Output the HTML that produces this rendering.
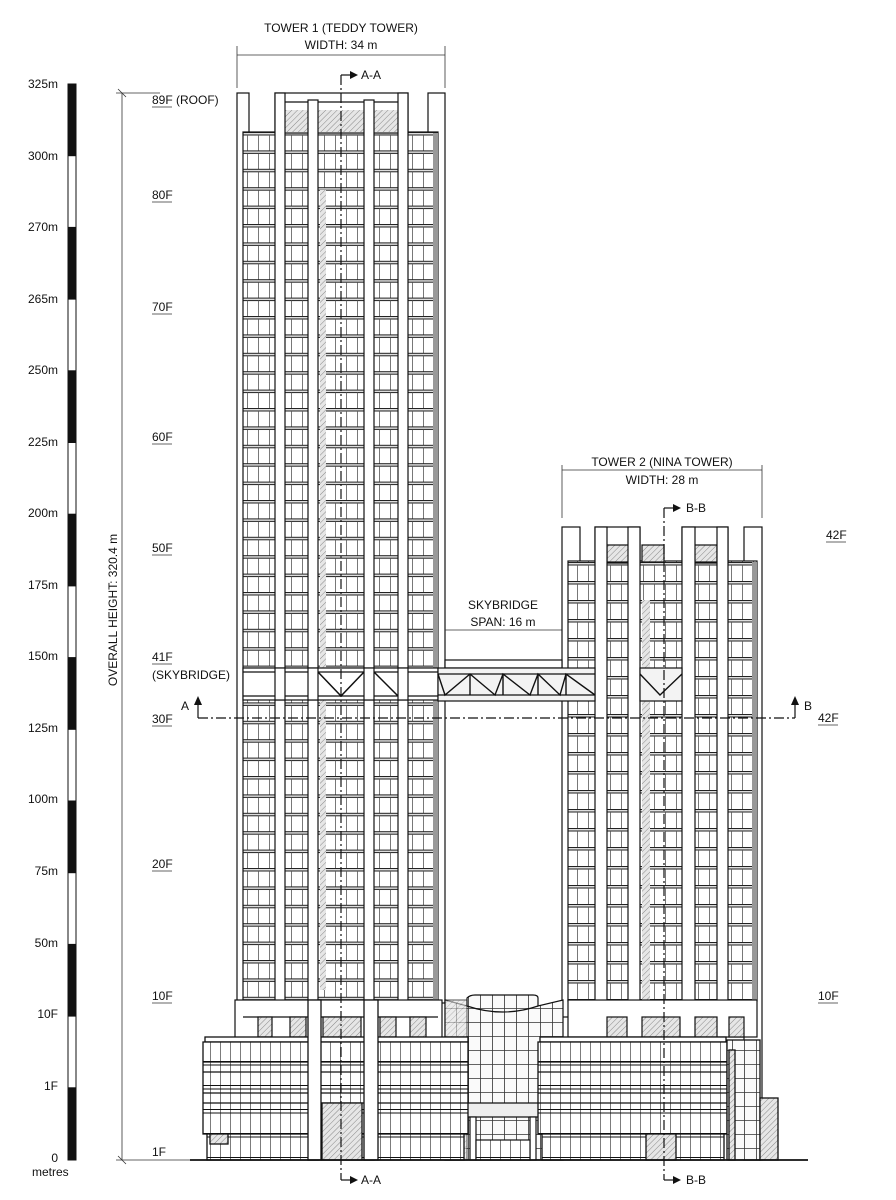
<!DOCTYPE html>
<html><head><meta charset="utf-8"><style>
html,body{margin:0;padding:0;background:#fff}
svg{display:block}
text{font-family:"Liberation Sans",sans-serif;fill:#111}
</style></head><body>
<svg width="896" height="1200" viewBox="0 0 896 1200" xmlns="http://www.w3.org/2000/svg">
<defs>
<pattern id="f1" patternUnits="userSpaceOnUse" x="0" y="132" width="11" height="18.4">
<rect width="11" height="18.4" fill="#fff"/>
<rect y="0" width="11" height="3" fill="#ddd"/>
<line x1="0" y1="0.5" x2="11" y2="0.5" stroke="#222" stroke-width="1"/>
<line x1="0" y1="3" x2="11" y2="3" stroke="#222" stroke-width="1"/>
<line x1="5.5" y1="3" x2="5.5" y2="18.4" stroke="#555" stroke-width="0.8"/>
</pattern>
<pattern id="f2" patternUnits="userSpaceOnUse" x="0" y="562" width="11" height="19">
<rect width="11" height="19" fill="#fff"/>
<rect y="0" width="11" height="3" fill="#ddd"/>
<line x1="0" y1="0.5" x2="11" y2="0.5" stroke="#222" stroke-width="1"/>
<line x1="0" y1="3" x2="11" y2="3" stroke="#222" stroke-width="1"/>
<line x1="5.5" y1="3" x2="5.5" y2="19" stroke="#555" stroke-width="0.8"/>
</pattern>
<pattern id="grid" patternUnits="userSpaceOnUse" width="12" height="14">
<rect width="12" height="14" fill="#fafafa"/>
<path d="M0 0.5H12M0.5 0V14" stroke="#333" stroke-width="0.8"/>
</pattern>
<pattern id="pod" patternUnits="userSpaceOnUse" width="10" height="24" y="1037">
<rect width="10" height="24" fill="#fff"/>
<path d="M0.5 0V24" stroke="#444" stroke-width="0.7"/>
<path d="M0 0.5H10M0 4H10" stroke="#111" stroke-width="1"/>
</pattern>
<pattern id="hatch" patternUnits="userSpaceOnUse" width="4" height="4" patternTransform="rotate(45)">
<rect width="4" height="4" fill="#e6e6e6"/>
<line x1="0" y1="0" x2="0" y2="4" stroke="#888" stroke-width="1"/>
</pattern>
</defs>

<g stroke="#111">
<rect x="68" y="84" width="8" height="1076" fill="#fff" stroke-width="1"/>
<rect x="68" y="84" width="8" height="71.7" fill="#111"/>
<rect x="68" y="227.4" width="8" height="71.7" fill="#111"/>
<rect x="68" y="370.8" width="8" height="71.7" fill="#111"/>
<rect x="68" y="514.2" width="8" height="71.7" fill="#111"/>
<rect x="68" y="657.6" width="8" height="71.7" fill="#111"/>
<rect x="68" y="801" width="8" height="71.7" fill="#111"/>
<rect x="68" y="944.4" width="8" height="71.7" fill="#111"/>
<rect x="68" y="1087.8" width="8" height="71.7" fill="#111"/>
</g>
<g font-size="12" text-anchor="end">
<text x="58" y="88">325m</text><text x="58" y="160">300m</text><text x="58" y="231">270m</text>
<text x="58" y="303">265m</text><text x="58" y="374">250m</text><text x="58" y="446">225m</text>
<text x="58" y="517">200m</text><text x="58" y="589">175m</text><text x="58" y="660">150m</text>
<text x="58" y="732">125m</text><text x="58" y="803">100m</text><text x="58" y="875">75m</text>
<text x="58" y="947">50m</text><text x="58" y="1018">10F</text><text x="58" y="1090">1F</text>
<text x="58" y="1162">0</text>
</g>
<text x="32" y="1176" font-size="12">metres</text>

<g stroke="#333" stroke-width="0.8">
<line x1="122" y1="93" x2="122" y2="1160"/>
<line x1="116" y1="93" x2="160" y2="93"/>
<line x1="116" y1="1160" x2="190" y2="1160"/>
<line x1="118" y1="89" x2="126" y2="97"/>
<line x1="118" y1="1156" x2="126" y2="1164"/>
</g>
<text transform="translate(117,610) rotate(-90)" font-size="12" text-anchor="middle">OVERALL HEIGHT: 320.4 m</text>

<g font-size="12">
<text x="152" y="104">89F (ROOF)</text>
<text x="152" y="199">80F</text>
<text x="152" y="311">70F</text>
<text x="152" y="441">60F</text>
<text x="152" y="552">50F</text>
<text x="152" y="661">41F</text>
<text x="152" y="679">(SKYBRIDGE)</text>
<text x="152" y="723">30F</text>
<text x="152" y="868">20F</text>
<text x="152" y="1000">10F</text>
<text x="152" y="1156">1F</text>
<text x="826" y="539">42F</text>
<text x="818" y="722">42F</text>
<text x="818" y="1000">10F</text>
</g>
<g stroke="#333" stroke-width="0.8">
<line x1="152" y1="107" x2="172" y2="107"/><line x1="152" y1="202" x2="172" y2="202"/>
<line x1="152" y1="314" x2="172" y2="314"/><line x1="152" y1="444" x2="172" y2="444"/>
<line x1="152" y1="555" x2="172" y2="555"/><line x1="152" y1="664" x2="172" y2="664"/>
<line x1="152" y1="726" x2="172" y2="726"/><line x1="152" y1="871" x2="172" y2="871"/>
<line x1="152" y1="1003" x2="172" y2="1003"/>
<line x1="826" y1="542" x2="846" y2="542"/><line x1="818" y1="725" x2="838" y2="725"/>
<line x1="818" y1="1003" x2="838" y2="1003"/>
</g>

<text x="341" y="32" font-size="12" text-anchor="middle">TOWER 1 (TEDDY TOWER)</text>
<text x="341" y="49" font-size="12" text-anchor="middle">WIDTH: 34 m</text>
<g stroke="#333" stroke-width="0.8">
<line x1="237" y1="55" x2="445" y2="55"/>
<line x1="237" y1="46" x2="237" y2="88"/><line x1="445" y1="46" x2="445" y2="88"/>
</g>

<g stroke="#111" stroke-width="1.2">
<rect x="237" y="93" width="12" height="910" fill="#fff"/>
<rect x="428" y="93" width="17" height="910" fill="#fff"/>
<rect x="243" y="132" width="195" height="868" fill="url(#f1)"/>
<rect x="275" y="93" width="133" height="40" fill="#fff"/>
<rect x="284" y="110" width="115" height="22" fill="url(#hatch)" stroke="none"/>
<line x1="275" y1="102" x2="408" y2="102"/>
<rect x="275" y="93" width="10" height="910" fill="#fff"/>
<rect x="398" y="93" width="10" height="910" fill="#fff"/>
<rect x="308" y="100" width="10" height="1060" fill="#fff"/>
<rect x="364" y="100" width="10" height="1060" fill="#fff"/>
<rect x="320" y="190" width="6" height="800" fill="url(#hatch)" stroke="none"/>
<rect x="433" y="133" width="5" height="867" fill="#999" stroke="none"/>
<rect x="243" y="668" width="195" height="32" fill="#fff"/>
<line x1="243" y1="672" x2="438" y2="672"/>
<line x1="243" y1="696" x2="438" y2="696"/>
<rect x="275" y="668" width="10" height="32" fill="#fff"/>
<rect x="398" y="668" width="10" height="32" fill="#fff"/>
<rect x="308" y="668" width="10" height="32" fill="#fff"/>
<rect x="364" y="668" width="10" height="32" fill="#fff"/>
<path d="M318 672L341 696L364 672M374 672L398 696" fill="none" stroke-width="1.5"/>
</g>

<g stroke="#111" stroke-width="1.2">
<rect x="235" y="1000" width="207" height="40" fill="#fff"/>
<line x1="243" y1="1017" x2="438" y2="1017"/>
<rect x="258" y="1017" width="14" height="20" fill="url(#hatch)"/>
<rect x="290" y="1017" width="16" height="20" fill="url(#hatch)"/>
<rect x="323" y="1017" width="38" height="20" fill="url(#hatch)"/>
<rect x="380" y="1017" width="16" height="20" fill="url(#hatch)"/>
<rect x="410" y="1017" width="16" height="20" fill="url(#hatch)"/>
</g>

<text x="662" y="466" font-size="12" text-anchor="middle">TOWER 2 (NINA TOWER)</text>
<text x="662" y="484" font-size="12" text-anchor="middle">WIDTH: 28 m</text>
<g stroke="#333" stroke-width="0.8">
<line x1="562" y1="470" x2="762" y2="470"/>
<line x1="562" y1="465" x2="562" y2="518"/><line x1="762" y1="465" x2="762" y2="518"/>
</g>
<text x="503" y="609" font-size="12" text-anchor="middle">SKYBRIDGE</text>
<text x="503" y="626" font-size="12" text-anchor="middle">SPAN: 16 m</text>
<g stroke="#333" stroke-width="0.8"><line x1="445" y1="630" x2="562" y2="630"/></g>

<g stroke="#111" stroke-width="1.2">
<rect x="562" y="527" width="18" height="490" fill="#fff"/>
<rect x="744" y="527" width="18" height="633" fill="#fff"/>
<rect x="568" y="561" width="189" height="440" fill="url(#f2)"/>
<rect x="595" y="527" width="45" height="36" fill="#fff"/>
<rect x="682" y="527" width="46" height="36" fill="#fff"/>
<rect x="607" y="545" width="22" height="17" fill="url(#hatch)"/>
<rect x="642" y="545" width="22" height="17" fill="url(#hatch)"/>
<rect x="693" y="545" width="24" height="17" fill="url(#hatch)"/>
<rect x="595" y="527" width="12" height="500" fill="#fff"/>
<rect x="628" y="527" width="12" height="500" fill="#fff"/>
<rect x="682" y="527" width="13" height="500" fill="#fff"/>
<rect x="717" y="527" width="11" height="500" fill="#fff"/>
<rect x="752" y="562" width="5" height="470" fill="#999" stroke="none"/>
<rect x="642" y="600" width="8" height="400" fill="url(#hatch)" stroke="none"/>
<rect x="568" y="1000" width="189" height="37" fill="#fff"/>
<rect x="607" y="1017" width="20" height="20" fill="url(#hatch)"/>
<rect x="642" y="1017" width="38" height="20" fill="url(#hatch)"/>
<rect x="695" y="1017" width="22" height="20" fill="url(#hatch)"/>
<rect x="729" y="1017" width="15" height="20" fill="url(#hatch)"/>
</g>

<g stroke="#111" stroke-width="1.2">
<rect x="445" y="660" width="117" height="8" fill="#fff"/>
<rect x="438" y="668" width="157" height="33" fill="#f3f3f3"/>
<line x1="438" y1="674" x2="595" y2="674"/>
<line x1="438" y1="695" x2="595" y2="695"/>
<path d="M438 674L445 695L470 674L495 695L503 674L530 695L538 674L560 695L566 674L595 695M470 674V695M503 674V695M538 674V695M566 674V695" fill="none" stroke-width="1.4"/>
<rect x="640" y="668" width="42" height="33" fill="#f3f3f3"/>
<path d="M640 674L660 695L682 674" fill="none" stroke-width="1.4"/>
</g>

<g stroke="#111" stroke-width="1.2">
<path d="M445 1000L467 1006L467 998Q470 995 475 995L533 995Q538 995 538 998L538 1006L563 1000L563 1160L445 1160Z" fill="url(#grid)"/>
<path d="M467 1006Q503 1018 538 1006" fill="none"/>
<rect x="445" y="1000" width="22" height="160" fill="url(#hatch)" opacity="0.6"/>
<path d="M450 1103L555 1103L555 1110L538 1117L468 1117L450 1110Z" fill="#eee"/>
<rect x="470" y="1117" width="6" height="43" fill="#fff"/>
<rect x="530" y="1117" width="6" height="43" fill="#fff"/>
<rect x="476" y="1140" width="54" height="20" fill="url(#pod)"/>
</g>

<g stroke="#111" stroke-width="1.3">
<rect x="205" y="1037" width="263" height="5" fill="#fff"/>
<rect x="203" y="1042" width="265" height="92" fill="url(#pod)"/>
<line x1="203" y1="1062" x2="468" y2="1062"/><line x1="203" y1="1072" x2="468" y2="1072"/>
<line x1="203" y1="1093" x2="468" y2="1093"/><line x1="203" y1="1103" x2="468" y2="1103"/>
<rect x="207" y="1134" width="257" height="26" fill="url(#pod)"/>
<rect x="210" y="1134" width="18" height="10" fill="url(#hatch)"/>
<rect x="322" y="1103" width="40" height="57" fill="url(#hatch)"/>
<rect x="308" y="1000" width="13" height="160" fill="#fff"/>
<rect x="364" y="1000" width="14" height="160" fill="#fff"/>
<rect x="540" y="1037" width="186" height="5" fill="#fff"/>
<rect x="538" y="1042" width="189" height="92" fill="url(#pod)"/>
<line x1="538" y1="1062" x2="727" y2="1062"/><line x1="538" y1="1072" x2="727" y2="1072"/>
<line x1="538" y1="1093" x2="727" y2="1093"/><line x1="538" y1="1103" x2="727" y2="1103"/>
<rect x="542" y="1134" width="182" height="26" fill="url(#pod)"/>
<rect x="646" y="1134" width="30" height="26" fill="url(#hatch)"/>
<rect x="727" y="1040" width="33" height="120" fill="url(#grid)"/>
<rect x="729" y="1050" width="6" height="110" fill="url(#hatch)"/>
<rect x="760" y="1098" width="18" height="62" fill="url(#hatch)"/>
<line x1="190" y1="1160" x2="808" y2="1160" stroke-width="1.8"/>
</g>

<g stroke="#111" stroke-width="1.2" fill="none">
<line x1="341" y1="75" x2="341" y2="1180" stroke-dasharray="10,3,2,3"/>
<line x1="341" y1="75" x2="352" y2="75"/>
<line x1="341" y1="1180" x2="352" y2="1180"/>
<line x1="664" y1="508" x2="664" y2="1180" stroke-dasharray="10,3,2,3"/>
<line x1="664" y1="508" x2="675" y2="508"/>
<line x1="664" y1="1180" x2="675" y2="1180"/>
<line x1="198" y1="718" x2="795" y2="718" stroke-dasharray="10,3,2,3"/>
<line x1="198" y1="702" x2="198" y2="718"/>
<line x1="795" y1="702" x2="795" y2="718"/>
</g>
<g fill="#111">
<path d="M358 75L350 71L350 79Z"/><path d="M358 1180L350 1176L350 1184Z"/>
<path d="M681 508L673 504L673 512Z"/><path d="M681 1180L673 1176L673 1184Z"/>
<path d="M198 696L194 705L202 705Z"/><path d="M795 696L791 705L799 705Z"/>
</g>
<g font-size="12">
<text x="361" y="79">A-A</text><text x="361" y="1184">A-A</text>
<text x="686" y="512">B-B</text><text x="686" y="1184">B-B</text>
<text x="181" y="710">A</text><text x="804" y="710">B</text>
</g>
</svg>
</body></html>
